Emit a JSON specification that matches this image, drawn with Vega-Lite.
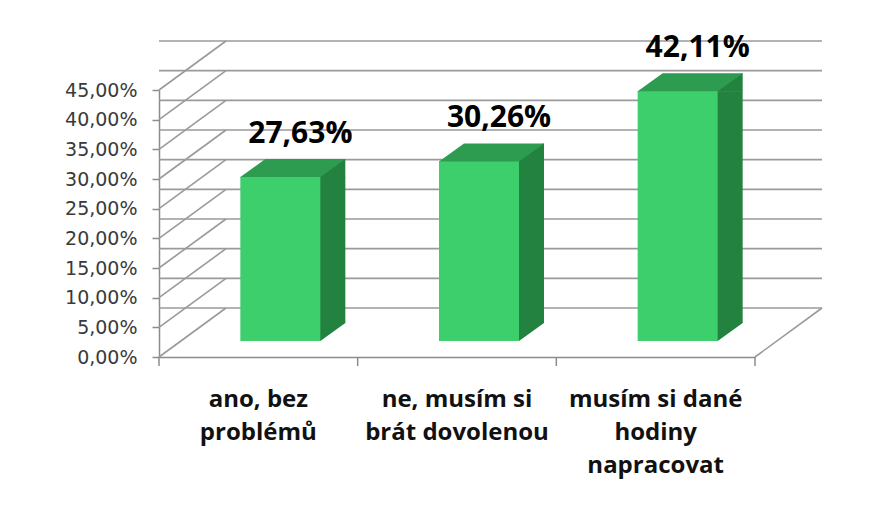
{
  "$schema": "https://vega.github.io/schema/vega-lite/v6.json",
  "width": 596,
  "height": 267,
  "autosize": {"type": "none"},
  "padding": {"left": 159, "top": 90, "right": 117, "bottom": 150},
  "background": "white",
  "config": {
    "view": {"stroke": null},
    "locale": {"number": {"decimal": ",", "thousands": "\u00a0", "grouping": [3], "currency": ["", "\u00a0Kč"]}},
    "axis": {"grid": false, "title": null},
    "axisX": {
      "labelAngle": 0,
      "ticks": false,
      "domainColor": "#8c8c8c",
      "domainWidth": 1.5,
      "labelFont": "Open Sans",
      "labelFontWeight": "bold",
      "labelFontSize": 24,
      "labelColor": "#111111",
      "labelLineHeight": 33,
      "labelBaseline": "top",
      "labelAlign": "center",
      "labelPadding": 30,
      "labelLimit": 300,
      "labelOverlap": false,
      "labelExpr": "datum.value == 'ano, bez problémů' ? ['ano, bez', 'problémů'] : datum.value == 'ne, musím si brát dovolenou' ? ['ne, musím si', 'brát dovolenou'] : ['musím si dané', 'hodiny', 'napracovat']"
    },
    "axisY": {
      "tickCount": 10,
      "tickSize": 7,
      "tickColor": "#8c8c8c",
      "tickWidth": 1.5,
      "domainColor": "#8c8c8c",
      "domainWidth": 1.5,
      "labelFont": "DejaVu Sans",
      "labelFontSize": 19,
      "labelColor": "#3a3a3a",
      "labelPadding": 15,
      "labelOverlap": false,
      "labelExpr": "format(datum.value, '.2%')"
    }
  },
  "datasets": {
    "bars": [
      {"cat": "ano, bez problémů", "v": 0.2763},
      {"cat": "ne, musím si brát dovolenou", "v": 0.3026},
      {"cat": "musím si dané hodiny napracovat", "v": 0.4211}
    ],
    "grid": [
      {"v": 0}, {"v": 0.05}, {"v": 0.1}, {"v": 0.15}, {"v": 0.2},
      {"v": 0.25}, {"v": 0.3}, {"v": 0.35}, {"v": 0.4}, {"v": 0.45}
    ]
  },
  "layer": [
    {
      "data": {"name": "grid"},
      "mark": {"type": "rule", "color": "#9a9a9a", "strokeWidth": 1.6, "xOffset": 67, "x2Offset": 67, "yOffset": -49, "y2Offset": -49},
      "encoding": {
        "y": {"field": "v", "type": "quantitative", "title": null, "scale": {"domain": [0, 0.45], "nice": false}}
      }
    },
    {
      "data": {"name": "grid"},
      "mark": {"type": "rule", "color": "#9a9a9a", "strokeWidth": 1.6, "x2Offset": 67, "y2Offset": -49},
      "encoding": {
        "x": {"value": 0},
        "x2": {"value": 0},
        "y": {"field": "v", "type": "quantitative", "title": null},
        "y2": {"field": "v"}
      }
    },
    {
      "data": {"name": "grid"},
      "transform": [{"filter": "datum.v == 0"}],
      "mark": {"type": "rule", "color": "#9a9a9a", "strokeWidth": 1.6, "x2Offset": 67, "y2Offset": -49},
      "encoding": {
        "x": {"value": "width"},
        "x2": {"value": "width"},
        "y": {"field": "v", "type": "quantitative", "title": null},
        "y2": {"field": "v"}
      }
    },
    {
      "data": {"name": "grid"},
      "transform": [{"filter": "datum.v == 0"}],
      "mark": {"type": "rule", "color": "#8c8c8c", "strokeWidth": 1.5, "y2Offset": 9},
      "encoding": {
        "x": {"value": "width"},
        "y": {"field": "v", "type": "quantitative", "title": null},
        "y2": {"field": "v"}
      }
    },
    {
      "data": {"name": "bars"},
      "mark": {"type": "rule", "color": "#8c8c8c", "strokeWidth": 1.5, "y2Offset": 9},
      "encoding": {
        "x": {"field": "cat", "type": "nominal", "sort": null, "title": null, "bandPosition": 0},
        "y": {"datum": 0, "type": "quantitative", "title": null},
        "y2": {"datum": 0}
      }
    },
    {
      "data": {"name": "bars"},
      "mark": {"type": "bar", "color": "#23823f", "width": 26, "xOffset": 74, "yOffset": -16, "y2Offset": -34},
      "encoding": {
        "x": {"field": "cat", "type": "nominal", "sort": null, "title": null},
        "y": {"field": "v", "type": "quantitative", "stack": null, "title": null},
        "y2": {"datum": 0}
      }
    },
    {
      "data": {"name": "bars"},
      "mark": {"type": "point", "shape": "M39,0.6L39,0L64,-18L65,-18L65,0.6Z", "size": 4, "filled": true, "opacity": 1, "strokeWidth": 0, "color": "#23823f", "xOffset": 22, "yOffset": -16},
      "encoding": {
        "x": {"field": "cat", "type": "nominal", "sort": null, "title": null},
        "y": {"field": "v", "type": "quantitative", "title": null}
      }
    },
    {
      "data": {"name": "bars"},
      "mark": {"type": "point", "shape": "M39,0L39,-18.6L65,-18.6L65,-18L40,0Z", "size": 4, "filled": true, "opacity": 1, "strokeWidth": 0, "color": "#23823f", "xOffset": 22, "yOffset": -16},
      "encoding": {
        "x": {"field": "cat", "type": "nominal", "sort": null, "title": null},
        "y": {"datum": 0, "type": "quantitative", "title": null}
      }
    },
    {
      "data": {"name": "bars"},
      "mark": {"type": "point", "shape": "M-40,1L40,1L40,0L65,-18L-15,-18L-40,0Z", "size": 4, "filled": true, "opacity": 1, "strokeWidth": 0, "color": "#2e9c50", "xOffset": 22, "yOffset": -16},
      "encoding": {
        "x": {"field": "cat", "type": "nominal", "sort": null, "title": null},
        "y": {"field": "v", "type": "quantitative", "title": null}
      }
    },
    {
      "data": {"name": "bars"},
      "mark": {"type": "bar", "color": "#3ccf6c", "width": 80, "xOffset": 22, "yOffset": -16, "y2Offset": -16},
      "encoding": {
        "x": {
          "field": "cat", "type": "nominal", "sort": null, "title": null,
          "scale": {"paddingInner": 0, "paddingOuter": 0}
        },
        "y": {"field": "v", "type": "quantitative", "stack": null, "title": null},
        "y2": {"datum": 0}
      }
    },
    {
      "data": {"name": "bars"},
      "mark": {"type": "text", "font": "Open Sans", "fontWeight": "bold", "fontSize": 30, "color": "#000000", "baseline": "middle", "align": "center", "xOffset": 42, "yOffset": -59},
      "encoding": {
        "x": {"field": "cat", "type": "nominal", "sort": null, "title": null},
        "y": {"field": "v", "type": "quantitative", "title": null},
        "text": {"field": "v", "type": "quantitative", "format": ".2%"}
      }
    }
  ]
}
